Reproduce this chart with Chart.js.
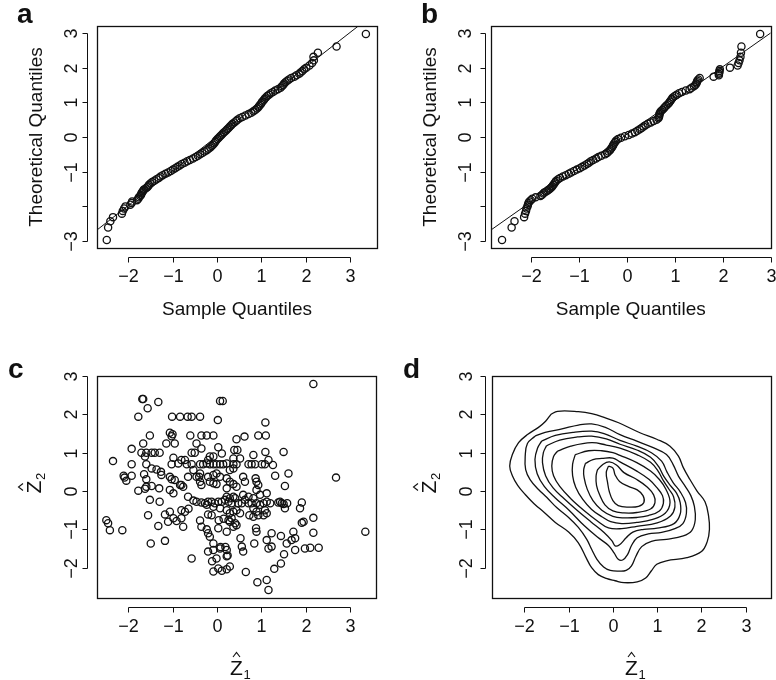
<!DOCTYPE html>
<html>
<head>
<meta charset="utf-8">
<script src="https://cdn.jsdelivr.net/npm/chart.js@4.4.1/dist/chart.umd.min.js"></script>
<style>
  html, body { margin: 0; padding: 0; background: #fff; }
  #wrap { position: relative; width: 776px; height: 680px; }
  #wrap canvas { position: absolute; left: 0; top: 0; }
</style>
</head>
<body>
<div id="wrap">
  <canvas id="pa" width="776" height="680"></canvas>
  <canvas id="pb" width="776" height="680"></canvas>
  <canvas id="pc" width="776" height="680"></canvas>
  <canvas id="pd" width="776" height="680"></canvas>
</div>
<script>
// theoretical normal quantiles (shared by a and b)
const theoQ = [-2.97,-2.61,-2.43,-2.31,-2.21,-2.13,-2.06,-2.00,-1.95,-1.90,-1.86,-1.82,-1.78,-1.74,
  -1.70,-1.67,-1.63,-1.60,-1.57,-1.54,-1.51,-1.48,-1.45,-1.42,
  -1.38,-1.34,-1.30,-1.26,-1.22,-1.18,-1.14,-1.10,-1.06,-1.02,
  -0.98,-0.94,-0.90,-0.86,-0.82,-0.78,-0.74,-0.70,-0.66,-0.62,
  -0.58,-0.54,-0.50,-0.46,-0.42,-0.38,-0.34,-0.30,-0.26,-0.22,
  -0.18,-0.14,-0.10,-0.06,-0.02,0.02,0.06,0.10,0.14,0.18,
  0.22,0.26,0.30,0.34,0.38,0.42,0.46,0.50,0.54,0.58,
  0.62,0.66,0.70,0.74,0.78,0.82,0.86,0.90,0.94,0.98,
  1.02,1.06,1.10,1.14,1.18,1.22,1.26,1.30,1.34,1.38,
  1.42,1.46,1.50,1.54,1.58,1.62,1.66,1.70,1.74,
  1.78,1.82,1.86,1.90,1.95,2.00,2.06,2.13,2.21,2.31,2.43,2.61,2.97];

// sample quantiles, panel a
const sampleA = [-2.48,-2.45,-2.40,-2.34,-2.14,-2.12,-2.09,-2.06,-1.95,-1.92,-1.91,-1.80,-1.77,-1.76,
  -1.73,-1.71,-1.70,-1.69,-1.67,-1.66,-1.64,-1.60,-1.57,-1.55,
  -1.53,-1.50,-1.46,-1.41,-1.36,-1.31,-1.27,-1.22,-1.16,-1.10,
  -1.04,-0.99,-0.94,-0.89,-0.84,-0.79,-0.73,-0.67,-0.61,-0.54,
  -0.48,-0.43,-0.38,-0.33,-0.28,-0.23,-0.19,-0.15,-0.12,-0.09,
  -0.06,-0.04,-0.02,0.01,0.04,0.07,0.10,0.13,0.16,0.20,
  0.23,0.26,0.29,0.32,0.35,0.39,0.43,0.46,0.51,0.57,
  0.64,0.71,0.77,0.82,0.86,0.90,0.93,0.95,0.98,1.00,
  1.02,1.05,1.07,1.10,1.13,1.17,1.21,1.26,1.31,1.37,
  1.43,1.46,1.49,1.51,1.54,1.58,1.62,1.67,1.74,
  1.79,1.85,1.88,1.92,1.96,2.01,2.08,2.14,2.18,2.17,2.27,2.69,3.35];

// sample quantiles, panel b
const sampleB = [-2.60,-2.40,-2.34,-2.14,-2.12,-2.10,-2.09,-2.07,-2.06,-2.05,-2.03,-2.00,-1.97,-1.90,
  -1.80,-1.77,-1.74,-1.72,-1.68,-1.65,-1.62,-1.59,-1.57,-1.55,
  -1.53,-1.51,-1.49,-1.47,-1.43,-1.39,-1.33,-1.27,-1.21,-1.16,
  -1.10,-1.04,-0.98,-0.93,-0.88,-0.83,-0.79,-0.75,-0.70,-0.64,
  -0.59,-0.53,-0.45,-0.41,-0.38,-0.35,-0.33,-0.31,-0.29,-0.28,
  -0.26,-0.24,-0.22,-0.18,-0.12,-0.04,0.04,0.11,0.17,0.22,
  0.27,0.31,0.35,0.39,0.44,0.50,0.56,0.62,0.66,0.67,
  0.68,0.68,0.69,0.71,0.74,0.77,0.79,0.82,0.85,0.88,
  0.90,0.92,0.94,0.96,1.00,1.04,1.09,1.15,1.23,1.31,
  1.35,1.40,1.43,1.45,1.46,1.47,1.49,1.52,1.81,
  1.92,1.92,1.93,1.93,1.94,2.15,2.31,2.33,2.35,2.37,2.38,2.39,2.78];

// reference lines (end points read at the plot edges)
const qqLineA = [[-2.70, -2.68], [3.18, 3.20]];
const qqLineB = [[-2.83, -2.68], [3.00, 3.00]];

// panel c: estimated (Z1, Z2) scores
const scoresC = [
  [2.17,2.79],[-1.68,2.40],[-1.66,2.40],[-1.32,2.32],[-1.56,2.16],[0.07,2.35],[0.13,2.35],
  [-1.77,1.94],[-1.01,1.94],[-0.83,1.94],[-0.66,1.94],[-0.57,1.94],[-0.38,1.94],[0.02,1.85],[1.09,1.79],
  [-1.06,1.52],[-1.00,1.48],[-1.02,1.43],[-1.51,1.45],[-0.60,1.45],[-0.35,1.45],[-0.23,1.45],[-0.08,1.45],
  [0.93,1.45],[1.10,1.45],[0.62,1.42],[0.44,1.35],
  [-0.46,1.24],[-1.14,1.24],[-0.95,1.24],[-1.66,1.24],[0.03,1.14],[-0.35,1.11],[-1.92,1.10],[0.39,1.07],
  [0.46,1.07],[1.50,1.02],[1.09,1.02],
  [-1.70,1.00],[-1.59,1.00],[-1.47,1.00],[-1.40,1.00],[-1.29,1.00],[-0.57,1.00],[-0.50,1.00],[0.11,0.98],
  [-2.34,0.78],[-1.62,0.90],[-0.16,0.90],[-0.08,0.90],[-0.20,0.81],[0.82,0.94],[0.37,0.85],[0.52,0.85],
  [1.16,0.81],[-0.98,0.87],[-0.80,0.81],[-0.72,0.81],
  [-1.02,0.70],[-0.87,0.72],[-0.68,0.70],[-0.57,0.70],[-0.38,0.70],[-0.31,0.70],[-0.23,0.72],[-0.16,0.70],
  [-0.08,0.70],[-0.01,0.70],[0.07,0.70],[0.14,0.70],[0.22,0.72],[0.37,0.70],[0.44,0.70],[0.71,0.70],
  [0.78,0.70],[0.86,0.70],[1.01,0.70],[1.08,0.70],[1.26,0.68],
  [-1.92,0.70],[-1.59,0.70],[-1.47,0.59],[-1.36,0.56],[-0.53,0.55],[0.29,0.55],[0.37,0.59],[-0.38,0.46],
  [1.61,0.46],[1.31,0.40],[2.68,0.35],
  [-2.10,0.40],[-2.08,0.35],[-1.64,0.44],[-1.92,0.40],[-1.26,0.50],[-1.25,0.42],[-1.06,0.37],[-1.02,0.31],
  [-0.65,0.37],[-0.46,0.37],[-0.40,0.37],[-0.20,0.37],[-0.08,0.42],[-0.01,0.46],[0.07,0.37],[0.59,0.37],
  [0.63,0.24],[0.87,0.33],
  [-2.04,0.27],[-1.59,0.31],[-0.95,0.29],[-0.83,0.16],[-0.80,0.16],[-0.76,0.11],[-0.38,0.24],[-0.35,0.16],
  [-0.16,0.24],[-0.08,0.20],[-0.01,0.18],[0.22,0.33],[0.29,0.24],[0.37,0.18],[0.44,0.11],[0.22,0.07],
  [0.89,0.24],[0.93,0.16],[1.53,0.13],
  [-1.77,0.01],[-1.62,0.06],[-1.59,0.11],[-1.47,0.13],[-1.30,0.07],[-1.06,0.03],[-0.98,-0.06],[-0.65,-0.15],
  [-0.53,-0.25],[-0.46,-0.28],[-0.35,-0.30],[-0.27,-0.32],[-1.51,-0.23],[-1.29,-0.28],
  [-0.20,-0.28],[-0.12,-0.28],[-0.05,-0.32],[0.03,-0.28],[0.11,-0.28],[0.18,-0.23],[0.26,-0.28],[0.33,-0.32],
  [0.41,-0.19],[0.48,-0.32],[0.56,-0.32],[0.63,-0.23],[0.71,-0.32],[0.78,-0.32],[0.82,-0.19],[0.89,-0.32],
  [0.97,-0.36],[1.05,-0.32],[1.12,-0.28],[1.20,-0.32],
  [1.38,-0.30],[1.42,-0.28],[1.46,-0.32],[1.50,-0.34],[1.58,-0.32],
  [1.12,-0.06],[0.89,0.03],[0.97,-0.10],[0.59,-0.10],[0.71,-0.15],[1.91,-0.30],[1.87,-0.45],[1.53,-0.45],
  [0.22,-0.15],[0.29,-0.19],[0.37,-0.15],
  [-0.23,-0.36],[-0.08,-0.41],[0.07,-0.45],[0.22,-0.50],[0.29,-0.58],[0.37,-0.54],[0.44,-0.50],[0.52,-0.58],
  [0.73,-0.63],[0.82,-0.67],[0.93,-0.63],[1.05,-0.63],[1.12,-0.58],[1.08,-0.50],[0.82,-0.45],[0.89,-0.54],
  [-1.17,-0.61],[-1.06,-0.54],[-0.98,-0.71],[-0.80,-0.50],[-0.72,-0.54],[-0.64,-0.46],[-1.10,-0.80],[-0.91,-0.78],
  [-0.80,-0.71],[-0.76,-0.93],[-0.20,-0.61],[-0.12,-0.63],[0.29,-0.80],[0.33,-0.71],[0.37,-0.93],[0.44,-0.89],
  [-1.55,-0.63],[-2.49,-0.76],[-2.45,-0.84],[-2.41,-1.02],[-2.13,-1.02],[-1.32,-0.91],[-0.38,-0.77],[-0.35,-0.93],
  [-0.23,-1.00],[-0.20,-1.10],[-0.16,-1.19],[0.03,-0.97],[0.22,-1.06],[0.41,-0.84],[0.04,-0.76],[0.15,-0.72],
  [0.26,-0.76],
  [0.88,-0.97],[0.89,-1.06],[1.23,-1.10],[1.44,-1.17],[1.72,-1.06],[1.76,-1.23],[1.68,-1.28],[1.95,-0.80],
  [1.91,-0.83],[2.17,-0.70],[2.17,-1.09],[3.34,-1.06],
  [-1.17,-1.30],[-1.49,-1.37],[-0.57,-1.76],[-0.20,-1.58],[-0.08,-1.37],[0.07,-1.50],[0.22,-1.54],[-0.08,-1.54],
  [-0.01,-1.76],[0.22,-1.70],[0.24,-1.68],[0.08,-1.46],[0.19,-1.46],
  [0.53,-1.23],[0.56,-1.45],[0.59,-1.58],[0.84,-1.37],[1.12,-1.28],[1.16,-1.50],[1.23,-1.45],[1.57,-1.37],
  [1.51,-1.65],[1.76,-1.54],[1.98,-1.50],[2.10,-1.48],[2.29,-1.48],[1.29,-2.03],[1.44,-1.89],
  [-0.08,-2.10],[0.03,-2.02],[0.11,-2.08],[0.22,-2.04],[0.29,-1.97],[0.65,-2.11],[0.91,-2.38],[1.12,-2.32],
  [1.16,-2.58],[-0.11,-1.83]
];

// panel d: density contour lines, outer to inner
const level1 = [[-1.40,2.00],[-1.25,2.08],[-0.78,2.07],[-0.48,2.02],[-0.17,1.91],[0.13,1.78],[0.61,1.52],
  [0.99,1.35],[1.29,1.17],[1.48,0.91],[1.59,0.61],[1.74,0.30],[1.90,0.00],[2.08,-0.28],[2.16,-0.65],
  [2.18,-1.00],[2.13,-1.32],[2.00,-1.58],[1.67,-1.74],[1.21,-1.82],[0.99,-1.91],[0.87,-2.08],[0.74,-2.27],
  [0.55,-2.37],[0.25,-2.39],[0.05,-2.34],[-0.15,-2.28],[-0.33,-2.18],[-0.48,-2.00],[-0.60,-1.75],
  [-0.78,-1.35],[-1.00,-1.07],[-1.30,-0.82],[-1.55,-0.56],[-1.78,-0.33],[-1.98,-0.09],[-2.15,0.15],
  [-2.27,0.40],[-2.33,0.65],[-2.27,0.95],[-2.13,1.26],[-1.92,1.48],[-1.68,1.66],[-1.52,1.82],[-1.40,2.00]];
const level2 = [[-1.76,1.43],[-1.53,1.53],[-1.15,1.62],[-0.78,1.72],[-0.48,1.75],[-0.17,1.66],[0.16,1.47],
  [0.54,1.30],[0.91,1.13],[1.21,0.95],[1.36,0.69],[1.48,0.39],[1.63,0.13],[1.76,-0.12],[1.84,-0.40],
  [1.86,-0.75],[1.78,-1.03],[1.59,-1.17],[1.21,-1.26],[0.87,-1.31],[0.65,-1.45],[0.52,-1.70],[0.42,-1.95],
  [0.30,-2.07],[0.13,-2.09],[-0.06,-2.07],[-0.21,-1.98],[-0.36,-1.78],[-0.48,-1.52],[-0.59,-1.26],
  [-0.78,-0.95],[-1.00,-0.69],[-1.27,-0.43],[-1.49,-0.17],[-1.68,0.04],[-1.87,0.30],[-1.97,0.56],
  [-1.98,0.91],[-1.93,1.24],[-1.76,1.43]];
const level3 = [[-1.61,1.30],[-1.30,1.45],[-0.90,1.53],[-0.48,1.56],[-0.20,1.50],[0.16,1.32],[0.54,1.17],
  [0.87,1.00],[1.10,0.78],[1.22,0.50],[1.36,0.22],[1.52,-0.02],[1.64,-0.30],[1.66,-0.58],[1.58,-0.85],
  [1.40,-0.98],[1.10,-1.08],[0.80,-1.12],[0.55,-1.22],[0.42,-1.42],[0.33,-1.66],[0.22,-1.80],[0.12,-1.78],
  [0.03,-1.62],[-0.10,-1.42],[-0.35,-1.20],[-0.65,-0.90],[-0.99,-0.50],[-1.30,-0.18],[-1.55,0.12],
  [-1.71,0.45],[-1.76,0.82],[-1.70,1.12],[-1.61,1.30]];
const level4 = [[-1.50,1.18],[-1.20,1.33],[-0.80,1.41],[-0.48,1.43],[-0.15,1.36],[0.16,1.22],[0.54,1.07],
  [0.85,0.88],[1.03,0.64],[1.15,0.38],[1.30,0.14],[1.44,-0.06],[1.52,-0.30],[1.52,-0.60],[1.38,-0.85],
  [1.00,-0.97],[0.70,-1.00],[0.45,-1.07],[0.30,-1.22],[0.15,-1.40],[0.05,-1.43],[-0.02,-1.30],[-0.20,-1.08],
  [-0.50,-0.80],[-0.81,-0.50],[-1.10,-0.20],[-1.35,0.08],[-1.52,0.40],[-1.59,0.74],[-1.57,1.00],[-1.50,1.18]];
const level5 = [[-1.25,1.04],[-0.95,1.17],[-0.48,1.26],[-0.15,1.20],[0.16,1.12],[0.54,0.95],[0.85,0.75],
  [1.02,0.52],[1.14,0.27],[1.27,0.04],[1.37,-0.15],[1.40,-0.42],[1.30,-0.65],[1.00,-0.83],[0.54,-0.92],
  [0.20,-0.98],[-0.10,-0.96],[-0.35,-0.78],[-0.66,-0.50],[-0.95,-0.20],[-1.20,0.12],[-1.34,0.40],
  [-1.38,0.65],[-1.34,0.90],[-1.25,1.04]];
const level6 = [[-0.85,0.95],[-0.55,1.05],[-0.25,1.05],[0.00,1.00],[0.16,0.93],[0.54,0.74],[0.85,0.52],
  [1.05,0.30],[1.20,0.04],[1.29,-0.30],[1.18,-0.58],[0.90,-0.74],[0.54,-0.82],[0.20,-0.85],[-0.05,-0.80],
  [-0.25,-0.67],[-0.48,-0.48],[-0.68,-0.22],[-0.84,0.10],[-0.91,0.40],[-0.91,0.70],[-0.85,0.95]];
const level7 = [[-0.62,0.72],[-0.45,0.82],[-0.25,0.85],[0.00,0.86],[0.16,0.76],[0.54,0.52],[0.82,0.30],
  [1.00,0.08],[1.12,-0.12],[1.14,-0.32],[1.05,-0.52],[0.80,-0.64],[0.54,-0.69],[0.25,-0.70],[0.00,-0.66],
  [-0.25,-0.50],[-0.45,-0.25],[-0.58,0.05],[-0.65,0.35],[-0.66,0.55],[-0.62,0.72]];
const level8 = [[-0.35,0.55],[-0.22,0.70],[-0.08,0.76],[0.08,0.68],[0.25,0.48],[0.54,0.30],[0.78,0.10],
  [0.92,-0.10],[0.95,-0.30],[0.85,-0.47],[0.54,-0.56],[0.25,-0.57],[0.00,-0.52],[-0.18,-0.36],[-0.30,-0.10],
  [-0.37,0.15],[-0.38,0.39],[-0.35,0.55]];
const level9 = [[-0.10,0.65],[0.00,0.60],[0.05,0.42],[0.15,0.25],[0.35,0.12],[0.55,0.03],[0.68,-0.12],
  [0.70,-0.30],[0.58,-0.40],[0.35,-0.42],[0.12,-0.38],[0.00,-0.25],[-0.08,-0.02],[-0.12,0.22],[-0.15,0.48],
  [-0.10,0.65]];

// axis ticks and labels
const xTicks = [-2, -1, 0, 1, 2, 3];
const xTickLabels = ['\u22122', '\u22121', '0', '1', '2', '3'];
const yTicksQQ = [-3, -2, -1, 0, 1, 2, 3];
const yTickLabelsQQ = ['\u22123', '', '\u22121', '0', '1', '2', '3'];
const yTicksZ = [-2, -1, 0, 1, 2, 3];
const yTickLabelsZ = ['\u22122', '\u22121', '0', '1', '2', '3'];

const INK = '#111111';
const FONT = '"Liberation Sans", Arial, Helvetica, sans-serif';

const toXY = pairs => pairs.map(p => ({ x: p[0], y: p[1] }));

// Z with a hat and a subscript, optionally turned to read bottom-to-top
const hatZ = (ctx, cx, cy, sub, turned) => {
    ctx.save();
    ctx.translate(cx, cy);
    if (turned) ctx.rotate(-Math.PI / 2);
    ctx.font = '21px ' + FONT;
    ctx.textAlign = 'center';
    ctx.textBaseline = 'alphabetic';
    ctx.fillText('Z', 0, 8);
    ctx.beginPath();
    ctx.moveTo(-3.5, -10);
    ctx.lineTo(0, -14.5);
    ctx.lineTo(3.5, -10);
    ctx.lineWidth = 1.1;
    ctx.stroke();
    ctx.font = '13px ' + FONT;
    ctx.textAlign = 'left';
    ctx.fillText(sub, 7, 12);
    ctx.restore();
};

// base-R look: box, offset axes with outward ticks, rotated y labels
const rAxes = {
    id: 'rAxes',
    afterDraw(chart, args, o) {
        const ctx = chart.ctx, a = chart.chartArea;
        const sx = chart.scales.x, sy = chart.scales.y;
        const seg = (x1, y1, x2, y2) => { ctx.beginPath(); ctx.moveTo(x1, y1); ctx.lineTo(x2, y2); ctx.stroke(); };
        ctx.save();
        ctx.strokeStyle = INK;
        ctx.fillStyle = INK;
        ctx.lineWidth = 1.3;
        ctx.strokeRect(Math.round(a.left) + 0.5, Math.round(a.top) + 0.5,
            Math.round(a.right - a.left), Math.round(a.bottom - a.top));
        ctx.lineWidth = 1;

        // x axis
        const xa = Math.round(a.bottom + o.xGap) + 0.5;
        const xp = o.xTicks.map(v => Math.round(sx.getPixelForValue(v)) + 0.5);
        seg(xp[0], xa, xp[xp.length - 1], xa);
        ctx.font = '18px ' + FONT;
        ctx.textAlign = 'center';
        ctx.textBaseline = 'middle';
        xp.forEach((p, i) => {
            seg(p, xa, p, xa + 5);
            ctx.fillText(o.xLabels[i], p, a.bottom + 29);
        });

        // y axis
        const ya = Math.round(a.left - o.yGap) + 0.5;
        const yp = o.yTicks.map(v => Math.round(sy.getPixelForValue(v)) + 0.5);
        seg(ya, yp[0], ya, yp[yp.length - 1]);
        yp.forEach((p, i) => {
            seg(ya - 5, p, ya, p);
            if (o.yLabels[i] !== '') {
                ctx.save();
                ctx.translate(a.left - 25, p);
                ctx.rotate(-Math.PI / 2);
                ctx.fillText(o.yLabels[i], 0, 0);
                ctx.restore();
            }
        });

        // axis titles
        const cx = (a.left + a.right) / 2, cy = (a.top + a.bottom) / 2;
        if (o.hat) {
            hatZ(ctx, cx, a.bottom + 69, '1', false);
            hatZ(ctx, a.left - 64, cy, '2', true);
        } else {
            ctx.font = '19px ' + FONT;
            ctx.fillText(o.xTitle, cx, a.bottom + 62);
            ctx.save();
            ctx.translate(a.left - 60, cy);
            ctx.rotate(-Math.PI / 2);
            ctx.fillText(o.yTitle, 0, 0);
            ctx.restore();
        }

        // panel letter
        ctx.font = 'bold 28px ' + FONT;
        ctx.textAlign = 'left';
        ctx.textBaseline = 'alphabetic';
        ctx.fillText(o.tag[0], o.tag[1], o.tag[2]);
        ctx.restore();
    }
};

const pointSet = data => ({
    data,
    showLine: false,
    pointStyle: 'circle',
    pointRadius: 3.6,
    pointBorderWidth: 1.3,
    pointBorderColor: INK,
    pointBackgroundColor: 'rgba(0,0,0,0)'
});

const lineSet = (data, smooth) => ({
    data,
    showLine: true,
    borderColor: INK,
    borderWidth: smooth ? 1.3 : 1,
    tension: smooth ? 0.4 : 0,
    pointRadius: 0,
    fill: false,
    clip: 0
});

const makePanel = (id, pad, xr, yr, datasets, axisOpts) => new Chart(document.getElementById(id), {
    type: 'scatter',
    data: { datasets },
    options: {
        responsive: false,
        animation: false,
        events: [],
        layout: { padding: pad },
        scales: {
            x: { type: 'linear', min: xr[0], max: xr[1], display: false },
            y: { type: 'linear', min: yr[0], max: yr[1], display: false }
        },
        plugins: {
            legend: { display: false },
            tooltip: { enabled: false },
            rAxes: axisOpts
        }
    },
    plugins: [rAxes]
});

const qqA = theoQ.map((t, i) => ({ x: sampleA[i], y: t }));
const qqB = theoQ.map((t, i) => ({ x: sampleB[i], y: t }));

makePanel('pa', { left: 97, top: 26, right: 399, bottom: 432 }, [-2.70, 3.60], [-3.20, 3.20],
    [pointSet(qqA), lineSet(toXY(qqLineA), false)],
    { xTicks, xLabels: xTickLabels, yTicks: yTicksQQ, yLabels: yTickLabelsQQ, xGap: 9, yGap: 10,
      xTitle: 'Sample Quantiles', yTitle: 'Theoretical Quantiles', tag: ['a', 17, 23] });

makePanel('pb', { left: 491, top: 26, right: 5, bottom: 432 }, [-2.83, 3.00], [-3.20, 3.20],
    [pointSet(qqB), lineSet(toXY(qqLineB), false)],
    { xTicks, xLabels: xTickLabels, yTicks: yTicksQQ, yLabels: yTickLabelsQQ, xGap: 9, yGap: 6,
      xTitle: 'Sample Quantiles', yTitle: 'Theoretical Quantiles', tag: ['b', 421, 23] });

makePanel('pc', { left: 97, top: 376, right: 400, bottom: 82 }, [-2.70, 3.58], [-2.79, 3.00],
    [pointSet(toXY(scoresC))],
    { xTicks, xLabels: xTickLabels, yTicks: yTicksZ, yLabels: yTickLabelsZ, xGap: 9, yGap: 10,
      hat: true, tag: ['c', 8, 378] });

makePanel('pd', { left: 492, top: 376, right: 5, bottom: 82 }, [-2.73, 3.57], [-2.79, 3.00],
    [level1, level2, level3, level4, level5, level6, level7, level8, level9].map(l => lineSet(toXY(l), true)),
    { xTicks, xLabels: xTickLabels, yTicks: yTicksZ, yLabels: yTickLabelsZ, xGap: 9, yGap: 7,
      hat: true, tag: ['d', 403, 378] });
</script>
</body>
</html>
